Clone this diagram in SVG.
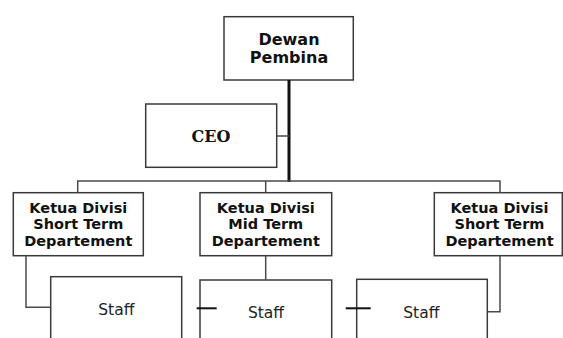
<svg xmlns="http://www.w3.org/2000/svg" width="563" height="338" viewBox="0 0 563 338">
<style>
.box{fill:#fff;stroke:#3a3a3a;stroke-width:1.5}
.ln{fill:none;stroke:#4a4a4a;stroke-width:1.5}
.thick{fill:none;stroke:#111;stroke-width:3}
.tick{fill:none;stroke:#111;stroke-width:2}
.hd{font-family:"DejaVu Sans",Verdana,sans-serif;font-weight:bold;fill:#111;text-anchor:middle}
.ceo{font-family:"DejaVu Serif","Liberation Serif",serif;font-weight:bold;font-size:16px;fill:#111;text-anchor:middle}
.st{font-family:"DejaVu Sans",sans-serif;font-size:15.5px;fill:#222;text-anchor:middle}
</style>
<rect width="563" height="338" fill="#fff"/>
<g id="dewan">
<rect class="box" x="224" y="16.7" width="129.3" height="63.3"/>
<text class="hd" font-size="16" x="289" y="45">Dewan</text>
<text class="hd" font-size="16" x="289" y="62.7">Pembina</text>
</g>
<g id="ceo">
<rect class="box" x="145.7" y="104" width="131" height="63.3"/>
<text class="ceo" x="211" y="141.5">CEO</text>
</g>
<g id="ketua-left">
<rect class="box" x="13.3" y="192.7" width="130" height="63"/>
<text class="hd" font-size="14.5" x="78.3" y="212.5">Ketua Divisi</text>
<text class="hd" font-size="14.5" x="78.3" y="229">Short Term</text>
<text class="hd" font-size="14.5" x="78.3" y="245.5">Departement</text>
</g>
<g id="ketua-mid">
<rect class="box" x="200" y="192.7" width="131.7" height="63"/>
<text class="hd" font-size="14.5" x="265.8" y="212.5">Ketua Divisi</text>
<text class="hd" font-size="14.5" x="265.8" y="229">Mid Term</text>
<text class="hd" font-size="14.5" x="265.8" y="245.5">Departement</text>
</g>
<g id="ketua-right">
<rect class="box" x="434.3" y="192.7" width="128" height="63"/>
<text class="hd" font-size="14.5" x="499.5" y="212.5">Ketua Divisi</text>
<text class="hd" font-size="14.5" x="499.5" y="229">Short Term</text>
<text class="hd" font-size="14.5" x="499.5" y="245.5">Departement</text>
</g>
<g id="staff-left">
<rect class="box" x="50.7" y="276.7" width="131" height="70"/>
<text class="st" x="116.3" y="315">Staff</text>
</g>
<g id="staff-mid">
<rect class="box" x="200" y="280" width="131.7" height="70"/>
<text class="st" x="266" y="318.3">Staff</text>
</g>
<g id="staff-right">
<rect class="box" x="356.7" y="279.3" width="130.6" height="70"/>
<text class="st" x="421.3" y="318.3">Staff</text>
</g>
<g id="connectors">
<line class="thick" x1="289" y1="80" x2="289" y2="182"/>
<line class="ln" x1="277" y1="136" x2="289" y2="136"/>
<polyline class="ln" points="77.7,192.7 77.7,181 500,181 500,192.7"/>
<line class="ln" x1="265.7" y1="181" x2="265.7" y2="192.7"/>
<polyline class="ln" points="26,255.7 26,307.3 50.7,307.3"/>
<line class="ln" x1="265.7" y1="255.7" x2="265.7" y2="280"/>
<polyline class="ln" points="500,255.7 500,311.7 487.3,311.7"/>
<line class="tick" x1="196.7" y1="308.3" x2="216.7" y2="308.3"/>
<line class="tick" x1="345.7" y1="308.3" x2="370.7" y2="308.3"/>
</g>
</svg>
